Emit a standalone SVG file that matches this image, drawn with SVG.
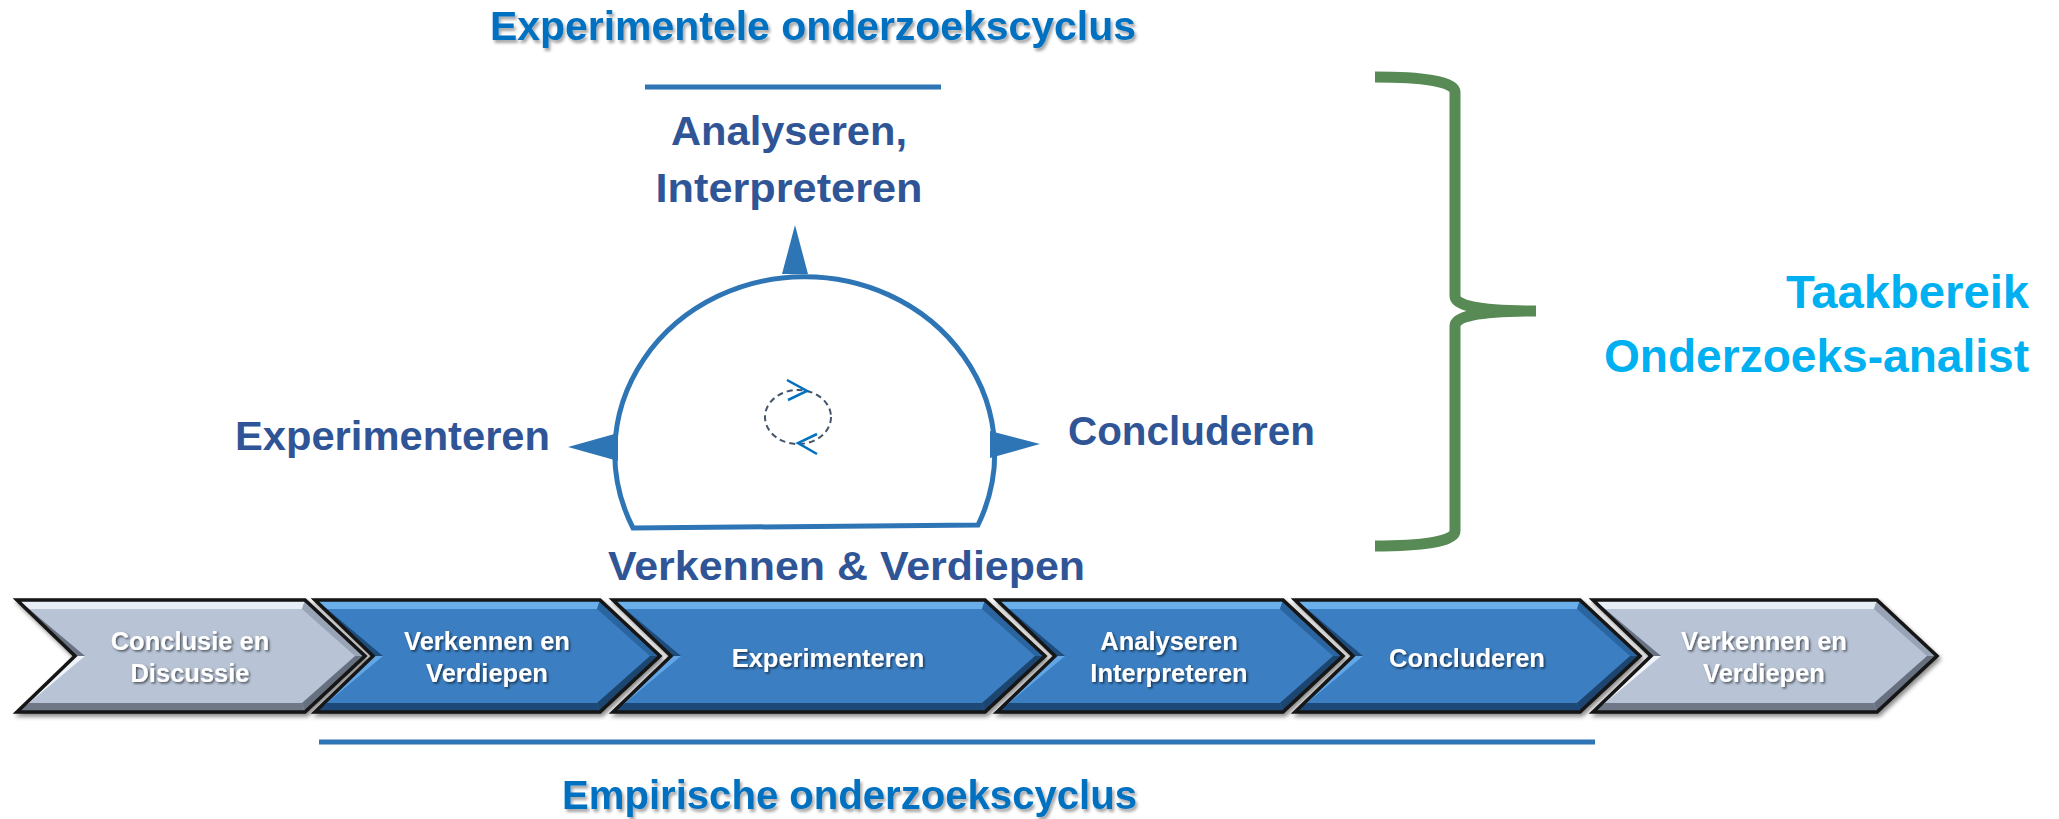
<svg xmlns="http://www.w3.org/2000/svg" width="2059" height="819" viewBox="0 0 2059 819">
  <style>
    .f { font-family: "Liberation Sans", Arial, sans-serif; font-weight: bold; }
    .title { fill: #0070C0; font-size: 40px; }
    .lbl { fill: #2F5597; font-size: 41px; }
    .role { fill: #00B0F0; font-size: 46px; }
    .ct { fill: #FFFFFF; font-size: 25.5px; text-anchor: middle; }
    .bl { stroke: #2E75B6; stroke-width: 5; fill: none; }
    .tri { fill: #2E75B6; }
    .outl { fill: none; stroke: #141414; stroke-width: 3.5; stroke-linejoin: miter; }
    .bm { fill: #3A7EC2; } .bt { fill: #6AAEEA; } .bb { fill: #1E4A78; } .bln { fill: #62A6E6; } .bun { fill: #1F4D7C; } .bru { fill: #2C65A0; } .brl { fill: #1C446F; }
    .gm { fill: #B8C4D6; } .gt { fill: #E8EEF6; } .gb { fill: #6F7888; } .gln { fill: #F0F4FA; } .gun { fill: #6A7384; } .gru { fill: #98A3B5; } .grl { fill: #666F7E; }
  </style>
  <defs>
    <filter id="tsh" x="-5%" y="-20%" width="110%" height="150%">
      <feDropShadow dx="2" dy="3" stdDeviation="1.6" flood-color="#000" flood-opacity="0.35"/>
    </filter>
    <filter id="wsh" x="-5%" y="-20%" width="110%" height="150%">
      <feDropShadow dx="1.5" dy="1.5" stdDeviation="1" flood-color="#000" flood-opacity="0.6"/>
    </filter>
    <filter id="csh" x="-5%" y="-10%" width="110%" height="130%">
      <feDropShadow dx="2" dy="3" stdDeviation="2" flood-color="#000" flood-opacity="0.45"/>
    </filter>
  </defs>
  <rect width="2059" height="819" fill="#FFFFFF"/>

  <!-- Titles -->
  <g id="title-top">
    <text class="f title" x="490" y="40" textLength="646" lengthAdjust="spacingAndGlyphs" filter="url(#tsh)">Experimentele onderzoekscyclus</text>
    <line class="bl" x1="645" y1="87" x2="941" y2="87"/>
  </g>
  <g id="title-bottom">
    <line class="bl" x1="319" y1="742" x2="1595" y2="742"/>
    <text class="f title" x="562" y="809" textLength="575" lengthAdjust="spacingAndGlyphs" filter="url(#tsh)">Empirische onderzoekscyclus</text>
  </g>

  <!-- Cycle dome -->
  <g id="cycle">
    <path class="bl" d="M633,528 A190,176 0 1 1 978,525 Z"/>
    <ellipse cx="798" cy="417" rx="33" ry="27" fill="none" stroke="#44546A" stroke-width="2" stroke-dasharray="6 4"/>
    <polyline points="787,380 807,391 788,400" fill="none" stroke="#0070C0" stroke-width="2.5"/>
    <polyline points="817,434 798,443 817,454" fill="none" stroke="#0070C0" stroke-width="2.5"/>
  </g>

  <g id="connectors">
    <polygon class="tri" points="795,225 782,274 808,274"/>
    <polygon class="tri" points="568,447 618,433 618,461"/>
    <polygon class="tri" points="1040,444 990,431 990,458"/>
  </g>

  <g id="node-analyseren">
    <text class="f lbl" x="789" y="145" text-anchor="middle" textLength="236" lengthAdjust="spacingAndGlyphs">Analyseren,</text>
    <text class="f lbl" x="789" y="202" text-anchor="middle" textLength="267" lengthAdjust="spacingAndGlyphs">Interpreteren</text>
  </g>
  <g id="node-experimenteren">
    <text class="f lbl" x="235" y="450" textLength="315" lengthAdjust="spacingAndGlyphs">Experimenteren</text>
  </g>
  <g id="node-concluderen">
    <text class="f lbl" x="1068" y="445" textLength="247" lengthAdjust="spacingAndGlyphs">Concluderen</text>
  </g>
  <g id="node-verkennen">
    <text class="f lbl" x="608" y="580" textLength="477" lengthAdjust="spacingAndGlyphs">Verkennen &amp; Verdiepen</text>
  </g>

  <!-- Brace -->
  <g id="brace">
    <path d="M1375,77 C1420,77 1455,81 1455,92 L1455,296 C1455,305 1475,311 1536,311 C1475,311 1455,317 1455,326 L1455,531 C1455,542 1420,546 1375,546" fill="none" stroke="#578A54" stroke-width="11"/>
  </g>
  <g id="node-taakbereik">
    <text class="f role" x="2029" y="308" text-anchor="end" textLength="243" lengthAdjust="spacingAndGlyphs">Taakbereik</text>
    <text class="f role" x="2029" y="372" text-anchor="end" textLength="425" lengthAdjust="spacingAndGlyphs">Onderzoeks-analist</text>
  </g>

  <!-- Chevrons -->
  <g id="chevron-1" filter="url(#csh)">
    <polygon class="gm" points="17,600 305,600 365,656 305,712 17,712 75,656"/>
    <polygon class="gt" points="17,600 305,600 302,609 29,609"/>
    <polygon class="gb" points="17,712 305,712 302,703 29,703"/>
    <polygon class="gun" points="17,600 75,656 85,656 29,609"/>
    <polygon class="gln" points="75,656 17,712 29,703 85,656"/>
    <polygon class="gru" points="305,600 365,656 355,656 302,609"/>
    <polygon class="grl" points="365,656 305,712 302,703 355,656"/>
    <polygon class="outl" points="17,600 305,600 365,656 305,712 17,712 75,656"/>
  </g>
  <g id="chevron-2" filter="url(#csh)">
    <polygon class="bm" points="315,600 600,600 660,656 600,712 315,712 373,656"/>
    <polygon class="bt" points="315,600 600,600 597,609 327,609"/>
    <polygon class="bb" points="315,712 600,712 597,703 327,703"/>
    <polygon class="bun" points="315,600 373,656 383,656 327,609"/>
    <polygon class="bln" points="373,656 315,712 327,703 383,656"/>
    <polygon class="bru" points="600,600 660,656 650,656 597,609"/>
    <polygon class="brl" points="660,656 600,712 597,703 650,656"/>
    <polygon class="outl" points="315,600 600,600 660,656 600,712 315,712 373,656"/>
  </g>
  <g id="chevron-3" filter="url(#csh)">
    <polygon class="bm" points="613,600 985,600 1045,656 985,712 613,712 671,656"/>
    <polygon class="bt" points="613,600 985,600 982,609 625,609"/>
    <polygon class="bb" points="613,712 985,712 982,703 625,703"/>
    <polygon class="bun" points="613,600 671,656 681,656 625,609"/>
    <polygon class="bln" points="671,656 613,712 625,703 681,656"/>
    <polygon class="bru" points="985,600 1045,656 1035,656 982,609"/>
    <polygon class="brl" points="1045,656 985,712 982,703 1035,656"/>
    <polygon class="outl" points="613,600 985,600 1045,656 985,712 613,712 671,656"/>
  </g>
  <g id="chevron-4" filter="url(#csh)">
    <polygon class="bm" points="997,600 1283,600 1343,656 1283,712 997,712 1055,656"/>
    <polygon class="bt" points="997,600 1283,600 1280,609 1009,609"/>
    <polygon class="bb" points="997,712 1283,712 1280,703 1009,703"/>
    <polygon class="bun" points="997,600 1055,656 1065,656 1009,609"/>
    <polygon class="bln" points="1055,656 997,712 1009,703 1065,656"/>
    <polygon class="bru" points="1283,600 1343,656 1333,656 1280,609"/>
    <polygon class="brl" points="1343,656 1283,712 1280,703 1333,656"/>
    <polygon class="outl" points="997,600 1283,600 1343,656 1283,712 997,712 1055,656"/>
  </g>
  <g id="chevron-5" filter="url(#csh)">
    <polygon class="bm" points="1295,600 1580,600 1640,656 1580,712 1295,712 1353,656"/>
    <polygon class="bt" points="1295,600 1580,600 1577,609 1307,609"/>
    <polygon class="bb" points="1295,712 1580,712 1577,703 1307,703"/>
    <polygon class="bun" points="1295,600 1353,656 1363,656 1307,609"/>
    <polygon class="bln" points="1353,656 1295,712 1307,703 1363,656"/>
    <polygon class="bru" points="1580,600 1640,656 1630,656 1577,609"/>
    <polygon class="brl" points="1640,656 1580,712 1577,703 1630,656"/>
    <polygon class="outl" points="1295,600 1580,600 1640,656 1580,712 1295,712 1353,656"/>
  </g>
  <g id="chevron-6" filter="url(#csh)">
    <polygon class="gm" points="1593,600 1877,600 1937,656 1877,712 1593,712 1651,656"/>
    <polygon class="gt" points="1593,600 1877,600 1874,609 1605,609"/>
    <polygon class="gb" points="1593,712 1877,712 1874,703 1605,703"/>
    <polygon class="gun" points="1593,600 1651,656 1661,656 1605,609"/>
    <polygon class="gln" points="1651,656 1593,712 1605,703 1661,656"/>
    <polygon class="gru" points="1877,600 1937,656 1927,656 1874,609"/>
    <polygon class="grl" points="1937,656 1877,712 1874,703 1927,656"/>
    <polygon class="outl" points="1593,600 1877,600 1937,656 1877,712 1593,712 1651,656"/>
  </g>

  <g id="chevron-labels" filter="url(#wsh)">
    <text class="f ct" x="190" y="650">Conclusie en</text>
    <text class="f ct" x="190" y="682">Discussie</text>
    <text class="f ct" x="487" y="650">Verkennen en</text>
    <text class="f ct" x="487" y="682">Verdiepen</text>
    <text class="f ct" x="828" y="667">Experimenteren</text>
    <text class="f ct" x="1169" y="650">Analyseren</text>
    <text class="f ct" x="1169" y="682">Interpreteren</text>
    <text class="f ct" x="1467" y="667">Concluderen</text>
    <text class="f ct" x="1764" y="650">Verkennen en</text>
    <text class="f ct" x="1764" y="682">Verdiepen</text>
  </g>
</svg>
